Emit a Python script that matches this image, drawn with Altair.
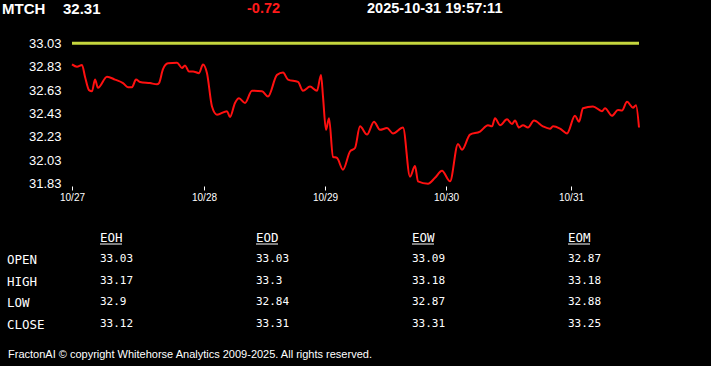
import altair as alt
import pandas as pd

# price series (t = intraday time index, price)
t_idx = [0, 5, 10, 13, 17, 20, 23, 26, 35, 43, 51, 56, 60, 64, 68, 78, 85, 87, 91, 96,
         105, 110, 113, 117, 121, 127, 131, 135, 140, 145, 155, 158, 163, 167, 173, 180,
         190, 196, 205, 211, 216, 226, 231, 238, 245, 249, 251, 254, 257, 261, 265, 271,
         278, 283, 288, 295, 302, 308, 315, 321, 331, 338, 343, 346, 356, 363, 370, 378,
         386, 390, 398, 408, 416, 420, 423, 428, 435, 440, 443, 447, 451, 456, 462, 471,
         478, 481, 488, 495, 503, 507, 511, 521, 530, 533, 540, 546, 550, 555, 561, 564, 567]
prices = [32.85, 32.83, 32.845, 32.745, 32.63, 32.62, 32.72, 32.65, 32.745, 32.72, 32.69,
          32.655, 32.655, 32.72, 32.70, 32.69, 32.68, 32.69, 32.81, 32.86, 32.865, 32.82,
          32.84, 32.79, 32.79, 32.775, 32.85, 32.775, 32.49, 32.42, 32.45, 32.40, 32.52,
          32.56, 32.52, 32.625, 32.62, 32.575, 32.76, 32.78, 32.72, 32.70, 32.625, 32.66,
          32.625, 32.76, 32.575, 32.29, 32.39, 32.06, 32.05, 31.95, 32.105, 32.135, 32.32,
          32.25, 32.36, 32.29, 32.305, 32.26, 32.31, 31.89, 31.98, 31.85, 31.83, 31.88,
          31.94, 31.85, 32.17, 32.12, 32.25, 32.275, 32.33, 32.32, 32.39, 32.33, 32.38,
          32.34, 32.37, 32.31, 32.33, 32.31, 32.37, 32.32, 32.30, 32.32, 32.30, 32.26,
          32.41, 32.36, 32.475, 32.49, 32.45, 32.475, 32.41, 32.46, 32.455, 32.53, 32.48,
          32.50, 32.31]

ref_level = 33.03
y_ticks = [31.83, 32.03, 32.23, 32.43, 32.63, 32.83, 33.03]
day_ticks = [0, 132, 253, 374, 499]
day_labels = ["10/27", "10/28", "10/29", "10/30", "10/31"]

header_symbol = "MTCH"
header_price = "32.31"
header_change = "-0.72"
header_time = "2025-10-31 19:57:11"

table_cols = ["EOH", "EOD", "EOW", "EOM"]
table_rows = ["OPEN", "HIGH", "LOW", "CLOSE"]
table_vals = [
    ["33.03", "33.03", "33.09", "32.87"],
    ["33.17", "33.3", "33.18", "33.18"],
    ["32.9", "32.84", "32.87", "32.88"],
    ["33.12", "33.31", "33.31", "33.25"],
]
footer = "FractonAI © copyright Whitehorse Analytics 2009-2025. All rights reserved."

W, H = 568, 145
PL, PT = 72, 41

df = pd.DataFrame({"t": t_idx, "price": prices})

label_map = "{" + ",".join(f"'{v}':'{l}'" for v, l in zip(day_ticks, day_labels)) + "}"

xscale = alt.Scale(domain=[0, 568], nice=False, zero=False)
yscale = alt.Scale(domain=[31.81, 33.05], nice=False, zero=False)

xaxis = alt.Axis(values=day_ticks, labelExpr=f"{label_map}[datum.value]", domain=False,
                 grid=False, tickColor="white", tickSize=4, tickWidth=1, labelColor="white",
                 labelFont="Liberation Sans", labelFontSize=10, labelPadding=2, title=None,
                 labelFlush=False, labelOverlap=False)
yaxis = alt.Axis(values=y_ticks, format=".2f", domain=False, grid=False, ticks=False,
                 labelColor="white", labelFont="Liberation Sans", labelFontSize=13,
                 labelPadding=11, title=None, labelOverlap=False, labelFlush=False,
                 labelBound=False)

line = alt.Chart(df).mark_line(color="#ff1010", strokeWidth=2, interpolate="monotone").encode(
    x=alt.X("t:Q", scale=xscale, axis=xaxis),
    y=alt.Y("price:Q", scale=yscale, axis=yaxis),
)

ref_df = pd.DataFrame({"t0": [0], "t1": [567], "level": [ref_level]})
ref = alt.Chart(ref_df).mark_rule(color="#c5d63e", strokeWidth=3).encode(
    x=alt.X("t0:Q", scale=xscale, axis=xaxis), x2="t1:Q",
    y=alt.Y("level:Q", scale=yscale, axis=yaxis)
)

def txt(s, x, y, color="white", size=14, weight="bold", font="Liberation Sans", align="left"):
    return alt.Chart(pd.DataFrame({"s": [s]})).mark_text(
        color=color, fontSize=size, fontWeight=weight, font=font, align=align, baseline="middle"
    ).encode(text="s:N", x=alt.value(x), y=alt.value(y))

layers = [line, ref]
layers.append(txt(header_symbol, 2 - PL, 9 - PT, size=15))
layers.append(txt(header_price, 63 - PL, 9 - PT, size=15))
layers.append(txt(header_change, 247 - PL, 9 - PT, color="#ff1a1a", size=14.5))
layers.append(txt(header_time, 367 - PL, 9 - PT, size=14.5))

mono = "DejaVu Sans Mono"
col_x = [100, 256, 412, 568]
row_y = [259, 281, 302, 324]
for cx, name in zip(col_x, table_cols):
    layers.append(txt(name, cx - PL, 238 - PT, size=12.5, weight="normal", font=mono))
    layers.append(alt.Chart(pd.DataFrame({"a": [0]})).mark_rule(color="white", strokeWidth=1).encode(
        x=alt.value(cx - PL), x2=alt.value(cx - PL + 22), y=alt.value(244 - PT)))
for ry, rname, vals in zip(row_y, table_rows, table_vals):
    layers.append(txt(rname, 7 - PL, ry + 1 - PT, size=12.5, weight="normal", font=mono))
    for cx, v in zip(col_x, vals):
        layers.append(txt(v, cx - PL, ry - PT, size=11, weight="normal", font=mono))

layers.append(txt(footer, 8 - PL, 355 - PT, size=11, weight="normal"))

chart = alt.layer(*layers).properties(
    width=W, height=H, background="black",
    padding={"left": PL, "top": PT, "right": 711 - PL - W, "bottom": 366 - PT - H},
    autosize=alt.AutoSizeParams(type="none"),
).configure_view(stroke=None)

chart.save("out.html", embed_options={"renderer": "svg", "actions": False})
